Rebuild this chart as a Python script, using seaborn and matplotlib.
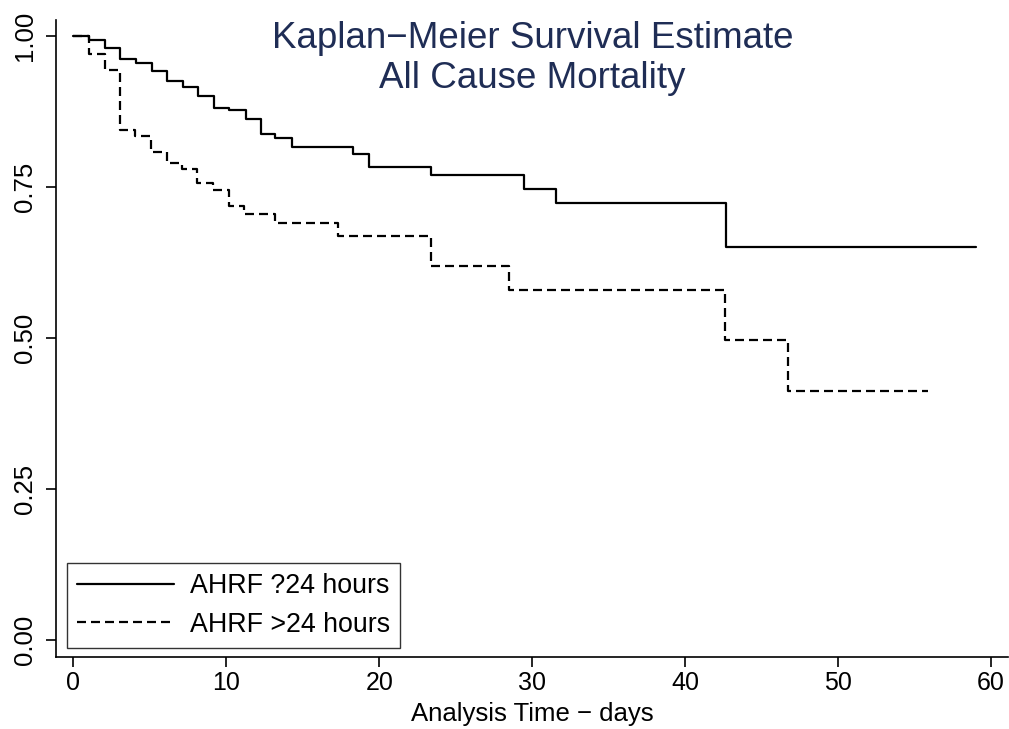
import numpy as np
import pandas as pd
import matplotlib
matplotlib.use("Agg")
import matplotlib.pyplot as plt
import seaborn as sns

# ---- data ----
early_times = [0, 1.05, 2.05, 3.08, 4.1, 5.15, 6.13, 7.15, 8.16, 9.18, 10.2, 11.26,
               12.24, 13.2, 14.27, 18.28, 19.33, 23.36, 29.47, 31.54, 42.67, 59.0]
early_surv = [1.0, 0.993, 0.980, 0.962, 0.955, 0.942, 0.925, 0.915, 0.900, 0.881, 0.877, 0.862,
              0.837, 0.831, 0.816, 0.805, 0.783, 0.769, 0.747, 0.723, 0.650, 0.650]

late_times = [0, 1.0, 2.05, 3.03, 4.06, 5.09, 6.13, 7.11, 8.1, 9.14, 10.16, 11.15,
              13.22, 17.3, 23.36, 28.49, 42.62, 46.7, 55.9]
late_surv = [1.0, 0.970, 0.943, 0.844, 0.834, 0.807, 0.790, 0.779, 0.757, 0.745, 0.719, 0.705,
             0.690, 0.669, 0.619, 0.579, 0.497, 0.413, 0.413]

groups = ["AHRF ?24 hours", "AHRF >24 hours"]
x_ticks = [0, 10, 20, 30, 40, 50, 60]
y_ticks = [0.0, 0.25, 0.5, 0.75, 1.0]
y_tick_labels = ["0.00", "0.25", "0.50", "0.75", "1.00"]
title_lines = ["Kaplan\u2212Meier Survival Estimate", "All Cause Mortality"]
x_label = "Analysis Time \u2212 days"

df = pd.concat([
    pd.DataFrame({"time": early_times, "surv": early_surv, "group": groups[0]}),
    pd.DataFrame({"time": late_times, "surv": late_surv, "group": groups[1]}),
], ignore_index=True)

sns.set_theme(style="ticks")
plt.rcParams["font.family"] = ["Liberation Sans", "DejaVu Sans"]
plt.rcParams["text.color"] = "black"
plt.rcParams["axes.labelcolor"] = "black"
plt.rcParams["xtick.color"] = "black"
plt.rcParams["ytick.color"] = "black"

W, H = 1009, 729
fig = plt.figure(figsize=(W / 100, H / 100), dpi=100)
ax = fig.add_axes([56 / W, 1 - 656.5 / H, (1008 - 56) / W, (656.5 - 20) / H])

sns.lineplot(data=df, x="time", y="surv", hue="group", style="group",
             palette={groups[0]: "black", groups[1]: "black"},
             dashes={groups[0]: "", groups[1]: (4.05, 2.25)},
             drawstyle="steps-post", linewidth=1.6, estimator=None, sort=False,
             ax=ax, legend=True)

ax.set_xlim(-1.13, 61.11)
ax.set_ylim(-0.027, 1.026)
ax.set_xticks(x_ticks)
ax.set_xticklabels([str(t) for t in x_ticks], fontsize=18)
ax.set_yticks(y_ticks)
ax.set_yticklabels(y_tick_labels, fontsize=18.5, rotation=90, va="center")
ax.tick_params(axis="x", direction="out", length=7.5, width=1.2, color="black", pad=3)
ax.tick_params(axis="y", direction="out", length=7.5, width=1.2, color="black", pad=6)
for side in ["top", "right"]:
    ax.spines[side].set_visible(False)
for side in ["left", "bottom"]:
    ax.spines[side].set_color("black")
    ax.spines[side].set_linewidth(1.2)
ax.set_xlabel(x_label, fontsize=18.5, labelpad=5)
ax.set_ylabel("")

title_color = "#1f2d55"
fig.text(532.5 / W, 1 - 48 / H, title_lines[0], ha="center", va="baseline",
         fontsize=26.5, color=title_color)
fig.text(532.5 / W, 1 - 87.5 / H, title_lines[1], ha="center", va="baseline",
         fontsize=26.5, color=title_color)

leg = ax.legend(loc="lower left", bbox_to_anchor=(67 / W, 1 - 648 / H),
                bbox_transform=fig.transFigure, frameon=True,
                fancybox=False, fontsize=19.3, handlelength=3.6, handletextpad=0.6,
                borderpad=0.38, labelspacing=0.48, borderaxespad=0)
leg.get_frame().set_edgecolor("black")
leg.get_frame().set_linewidth(1.0)
for h in leg.get_lines():
    h.set_linewidth(1.6)

fig.savefig("out.png", dpi=100, facecolor="white")
